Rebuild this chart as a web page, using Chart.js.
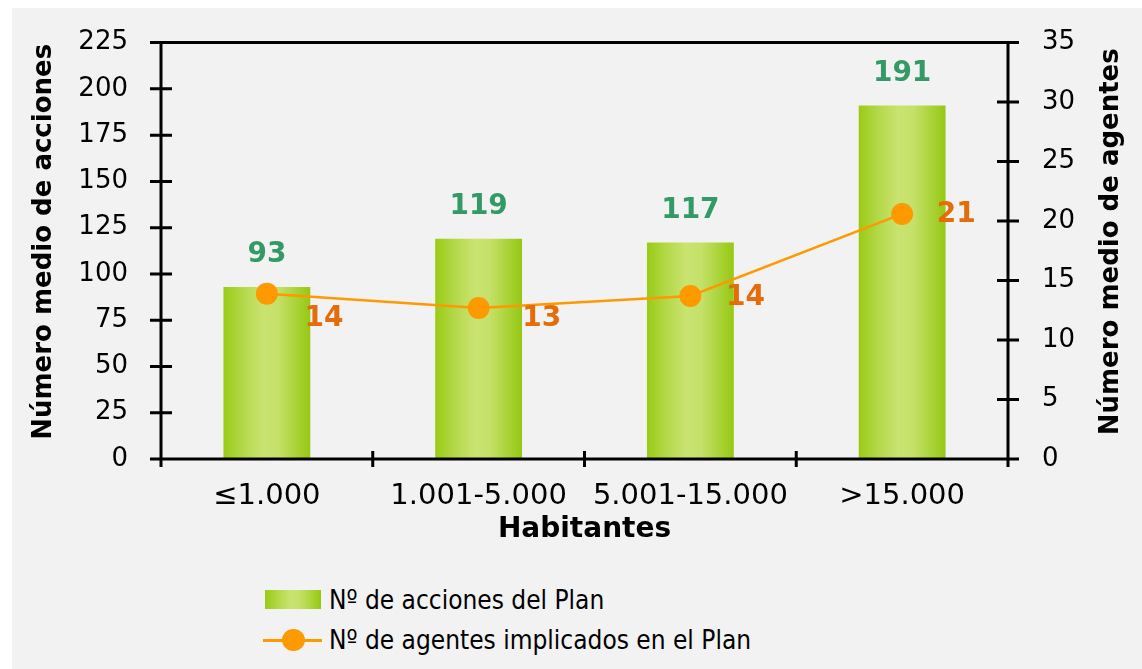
<!DOCTYPE html>
<html><head><meta charset="utf-8">
<script src="https://cdn.jsdelivr.net/npm/chart.js@4"></script>
<style>
html,body{margin:0;padding:0;background:#fff;}
#wrap{position:relative;width:1142px;height:669px;overflow:hidden;}
#panel{position:absolute;left:12px;top:8px;right:0;bottom:0;background:#f2f2f2;}
#c{position:absolute;left:0;top:-7px;}
.lg{position:absolute;font-family:"DejaVu Sans Condensed","DejaVu Sans";font-stretch:condensed;font-size:26px;color:#000;white-space:nowrap;line-height:30px;}
#sw1{position:absolute;left:265px;top:590px;width:56px;height:19px;background:linear-gradient(to right,#9acb15 0%,#b5d94a 25%,#c9e370 45%,#c6e16a 60%,#b0d640 80%,#96c812 100%);}
#sw2l{position:absolute;left:263px;top:639px;width:59px;height:3px;background:#ff9900;}
#sw2c{position:absolute;left:282px;top:629px;width:23px;height:22px;border-radius:50%;background:#ff9900;}
</style></head>
<body>
<div id="wrap">
<div id="panel"></div>
<canvas id="c" width="1142" height="567"></canvas>
<div id="sw1"></div>
<div class="lg" id="t1" style="left:329px;top:585px;">Nº de acciones del Plan</div>
<div id="sw2l"></div><div id="sw2c"></div>
<div class="lg" id="t2" style="left:329px;top:625px;">Nº de agentes implicados en el Plan</div>
</div>
<script>
const categories = ['≤1.000', '1.001-5.000', '5.001-15.000', '>15.000'];
const accionesValues = [93, 119, 117, 191];
const agentesValues = [13.9, 12.7, 13.7, 20.6];
const agentesLabels = ['14', '13', '14', '21'];
const accionesLabels = ['93', '119', '117', '191'];
const leftTicks = [0, 25, 50, 75, 100, 125, 150, 175, 200, 225];
const rightTicks = [0, 5, 10, 15, 20, 25, 30, 35];
const seriesNames = ['Nº de acciones del Plan', 'Nº de agentes implicados en el Plan'];
const axisTitles = ['Número medio de acciones', 'Número medio de agentes', 'Habitantes'];

const FONT = 'DejaVu Sans';
const lineLabelOffsets = [[57, 25], [63, 11], [55, 2], [54, 1]];

function barGradient(c) {
  const chart = c.chart;
  const xs = chart.scales && chart.scales.x;
  if (!xs || c.dataIndex === undefined || !chart.chartArea) return '#b5d94a';
  const cx = xs.getPixelForValue(c.dataIndex);
  const w = (xs.width / categories.length) * 0.41;
  const g = chart.ctx.createLinearGradient(cx - w / 2, 0, cx + w / 2, 0);
  g.addColorStop(0, '#9acb15');
  g.addColorStop(0.22, '#b3d848');
  g.addColorStop(0.45, '#c9e370');
  g.addColorStop(0.62, '#c6e16a');
  g.addColorStop(0.82, '#acd43c');
  g.addColorStop(1, '#96c812');
  return g;
}

const axesPlugin = {
  id: 'axesPlugin',
  afterDatasetsDraw(chart) {
    const ctx = chart.ctx;
    const {left, right, top, bottom} = chart.chartArea;
    const y = chart.scales.y, y1 = chart.scales.y1, x = chart.scales.x;
    ctx.save();
    ctx.strokeStyle = '#000';
    ctx.lineWidth = 3;
    ctx.lineCap = 'butt';
    ctx.beginPath();
    ctx.moveTo(left, top); ctx.lineTo(right, top);
    ctx.moveTo(left, bottom); ctx.lineTo(right, bottom);
    ctx.moveTo(left, top - 1.5); ctx.lineTo(left, bottom + 1.5);
    ctx.moveTo(right, top - 1.5); ctx.lineTo(right, bottom + 1.5);
    y.ticks.forEach(t => { const p = y.getPixelForValue(t.value); ctx.moveTo(left - 11, p); ctx.lineTo(left + 11, p); });
    y1.ticks.forEach(t => { const p = y1.getPixelForValue(t.value); ctx.moveTo(right - 11, p); ctx.lineTo(right + 11, p); });
    const half = (x.getPixelForValue(1) - x.getPixelForValue(0)) / 2;
    for (let i = 0; i <= categories.length; i++) {
      const p = x.getPixelForValue(i) - half;
      ctx.moveTo(p, bottom - 8); ctx.lineTo(p, bottom + 8);
    }
    ctx.stroke();

    // data labels
    ctx.textAlign = 'center';
    ctx.textBaseline = 'middle';
    ctx.font = 'bold 28px "' + FONT + '"';
    ctx.fillStyle = '#339966';
    chart.getDatasetMeta(1).data.forEach((bar, i) => {
      ctx.fillText(accionesLabels[i], bar.x, bar.y - 32);
    });
    ctx.fillStyle = '#e46c0a';
    chart.getDatasetMeta(0).data.forEach((pt, i) => {
      const o = lineLabelOffsets[i];
      ctx.fillText(agentesLabels[i], pt.x + o[0], pt.y + o[1]);
    });

    // y-axis titles (both read bottom-to-top)
    ctx.font = 'bold 26px "' + FONT + '"';
    ctx.fillStyle = '#000';
    ctx.textBaseline = 'alphabetic';
    const cy = (top + bottom) / 2 - 9;
    ctx.save(); ctx.translate(51, cy); ctx.rotate(-Math.PI / 2); ctx.fillText(axisTitles[0], 0, 0); ctx.restore();
    ctx.save(); ctx.translate(1118, cy); ctx.rotate(-Math.PI / 2); ctx.fillText(axisTitles[1], 0, 0); ctx.restore();
    ctx.restore();
  }
};

new Chart(document.getElementById('c'), {
  data: {
    labels: categories,
    datasets: [
      {
        type: 'line', label: seriesNames[1], data: agentesValues, yAxisID: 'y1', order: 1,
        borderColor: '#ff9900', borderWidth: 2.5, tension: 0,
        pointRadius: 11, pointHoverRadius: 11, pointBackgroundColor: '#ff9900', pointBorderWidth: 0
      },
      {
        type: 'bar', label: seriesNames[0], data: accionesValues, yAxisID: 'y', order: 2,
        backgroundColor: barGradient, borderWidth: 0,
        categoryPercentage: 1, barPercentage: 0.41
      }
    ]
  },
  options: {
    responsive: false,
    animation: false,
    events: [],
    layout: {padding: {top: 33, left: 0, right: 0, bottom: 0}},
    plugins: {legend: {display: false}, tooltip: {enabled: false}},
    scales: {
      x: {
        grid: {display: false, drawTicks: false},
        border: {display: false},
        ticks: {font: {family: FONT, size: 29}, color: '#000', padding: 20, maxRotation: 0, autoSkip: false},
        title: {display: true, text: axisTitles[2], font: {family: FONT, size: 28, weight: 'bold'}, color: '#000', padding: {top: 0, bottom: 13}},
        afterFit: s => { s.height = 101; }
      },
      y: {
        position: 'left', min: 0, max: 225,
        grid: {display: false, drawTicks: false},
        border: {display: false},
        afterBuildTicks: s => { s.ticks = leftTicks.map(v => ({value: v})); },
        ticks: {font: {family: FONT, size: 26}, color: '#000', padding: 33},
        afterFit: s => { s.width = 161; }
      },
      y1: {
        position: 'right', min: 0, max: 35,
        grid: {display: false, drawTicks: false},
        border: {display: false},
        afterBuildTicks: s => { s.ticks = rightTicks.map(v => ({value: v})); },
        ticks: {font: {family: FONT, size: 26}, color: '#000', padding: 34},
        afterFit: s => { s.width = 134; }
      }
    }
  },
  plugins: [axesPlugin]
});
</script>
</body></html>
